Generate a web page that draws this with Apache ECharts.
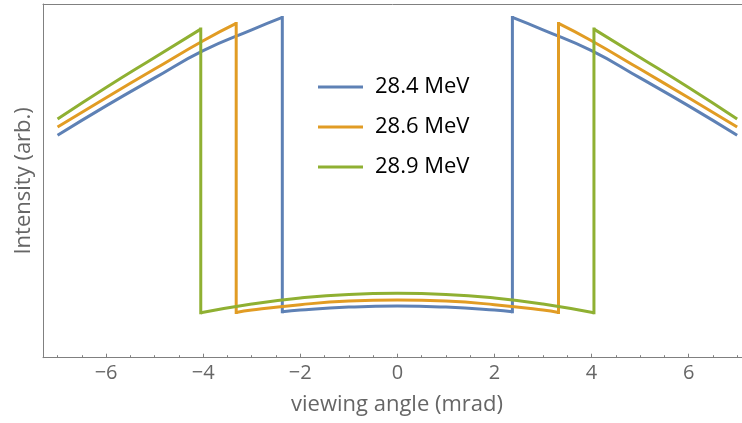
<!DOCTYPE html>
<html>
<head>
<meta charset="utf-8">
<script src="https://cdn.jsdelivr.net/npm/echarts@6/dist/echarts.min.js"></script>
<style>
  html, body { margin: 0; padding: 0; background: #fff; }
  #chart { width: 742px; height: 423px; }
</style>
</head>
<body>
<div id="chart"></div>
<script>
// Beam energies shown in the legend
const energies = ['28.4 MeV', '28.6 MeV', '28.9 MeV'];
const colors = ['#5E81B5', '#E19C24', '#8FB032'];

// Cut-off viewing angle (mrad) where the intensity jumps, per energy
const cutoffAngles = [2.37, 3.32, 4.05];

// Outer branch (|angle| >= cut-off), one side; the profile is symmetric
const outerAngles284 = [2.37, 3, 4, 5, 6, 7];
const outerIntensity284 = [96.2, 92.7, 86.8, 79.1, 71.2, 62.9];
const outerAngles286 = [3.32, 4, 5, 6, 7];
const outerIntensity286 = [94.5, 89.6, 81.6, 73.5, 65.2];
const outerAngles289 = [4.05, 5, 6, 7];
const outerIntensity289 = [92.9, 84.9, 76.4, 67.5];

// Inner branch (|angle| <= cut-off), one side
const innerAngles284 = [0, 1, 2, 2.37];
const innerIntensity284 = [14.6, 14.3, 13.5, 13.0];
const innerAngles286 = [0, 1, 2, 3, 3.32];
const innerIntensity286 = [16.3, 16.0, 15.0, 13.5, 12.8];
const innerAngles289 = [0, 1, 2, 3, 4.05];
const innerIntensity289 = [18.2, 17.9, 16.9, 15.2, 12.7];

// Axis tick labels on the angle axis
const angleTickLabels = ['-6', '-4', '-2', '0', '2', '4', '6'];

const outerAngles = [outerAngles284, outerAngles286, outerAngles289];
const outerIntensity = [outerIntensity284, outerIntensity286, outerIntensity289];
const innerAngles = [innerAngles284, innerAngles286, innerAngles289];
const innerIntensity = [innerIntensity284, innerIntensity286, innerIntensity289];

const LINE_W = 3;

function pairs(xs, ys, sign) {
  return xs.map((x, i) => [sign * x, ys[i]]);
}

const series = [];
energies.forEach((name, k) => {
  const base = {
    name: name,
    type: 'line',
    symbol: 'none',
    showSymbol: false,
    color: colors[k],
    lineStyle: { width: LINE_W, color: colors[k], join: 'miter' },
    emphasis: { disabled: true },
    silent: true,
    z: 2 + k
  };
  const cut = cutoffAngles[k];
  const oa = outerAngles[k], oi = outerIntensity[k];
  const ia = innerAngles[k], ii = innerIntensity[k];
  const top = oi[0];
  const bottom = ii[ii.length - 1];

  // left outer branch, from the far edge towards the cut-off
  series.push(Object.assign({}, base, {
    smooth: 0.5,
    data: pairs(oa, oi, -1).reverse()
  }));
  // right outer branch
  series.push(Object.assign({}, base, {
    smooth: 0.5,
    data: pairs(oa, oi, 1)
  }));
  // inner branch across the centre
  const innerLeft = pairs(ia, ii, -1).reverse();
  const innerRight = pairs(ia, ii, 1).slice(1);
  series.push(Object.assign({}, base, {
    smooth: 0.5,
    data: innerLeft.concat(innerRight)
  }));
  // the two vertical jumps at the cut-off angle
  series.push(Object.assign({}, base, {
    smooth: false,
    connectNulls: false,
    lineStyle: { width: LINE_W, color: colors[k], cap: 'square', join: 'miter' },
    data: [[-cut, top], [-cut, bottom], '-', [cut, bottom], [cut, top]]
  }));
});

const axisGrey = '#808080';
const textGrey = '#666666';
const FONT = '"Open Sans", "Liberation Sans", Arial, sans-serif';

const chart = echarts.init(document.getElementById('chart'), null, { renderer: 'canvas' });
chart.setOption({
  animation: false,
  backgroundColor: '#ffffff',
  grid: { left: 43, right: 0, top: 4, bottom: 65.3, containLabel: false },
  legend: {
    data: energies,
    orient: 'vertical',
    left: 318,
    top: 76,
    padding: 0,
    itemWidth: 45,
    itemHeight: 14,
    itemGap: 18,
    icon: 'path://M0,0 L45,0 L45,3 L0,3 Z',
    selectedMode: false,
    textStyle: { fontFamily: FONT, fontSize: 22, color: '#000', padding: [0, 0, 0, 7] }
  },
  xAxis: [{
    type: 'value',
    min: -7.3,
    max: 7.1,
    splitNumber: 7,
    name: 'viewing angle (mrad)',
    nameLocation: 'middle',
    nameGap: 36,
    nameTextStyle: { fontFamily: FONT, fontSize: 22, color: textGrey, padding: [0, 0, 0, 9] },
    axisLine: { show: true, onZero: false, lineStyle: { color: axisGrey, width: 1 } },
    axisTick: { show: true, inside: true, length: 4, lineStyle: { color: axisGrey, width: 1 } },
    minorTick: { show: true, splitNumber: 4, length: 2.5, lineStyle: { color: axisGrey, width: 1 } },
    splitLine: { show: false },
    axisLabel: {
      show: true,
      margin: 6,
      showMinLabel: false,
      showMaxLabel: false,
      fontFamily: FONT,
      fontSize: 20,
      color: textGrey,
      formatter: function (v) {
        const s = String(Math.round(v));
        return angleTickLabels.indexOf(s) >= 0 ? s.replace('-', '\u2212') : '';
      }
    }
  }, {
    type: 'value',
    position: 'top',
    min: -7.3,
    max: 7.1,
    axisLine: { show: true, onZero: false, lineStyle: { color: axisGrey, width: 1 } },
    axisTick: { show: false },
    axisLabel: { show: false },
    splitLine: { show: false }
  }],
  yAxis: {
    type: 'value',
    min: 0,
    max: 100,
    name: 'Intensity (arb.)',
    nameLocation: 'middle',
    nameGap: 8,
    nameRotate: 90,
    nameTextStyle: { fontFamily: FONT, fontSize: 22, color: textGrey },
    axisLine: { show: true, onZero: false, lineStyle: { color: axisGrey, width: 1 } },
    axisTick: { show: false },
    axisLabel: { show: false },
    splitLine: { show: false }
  },
  series: series
});
</script>
</body>
</html>
